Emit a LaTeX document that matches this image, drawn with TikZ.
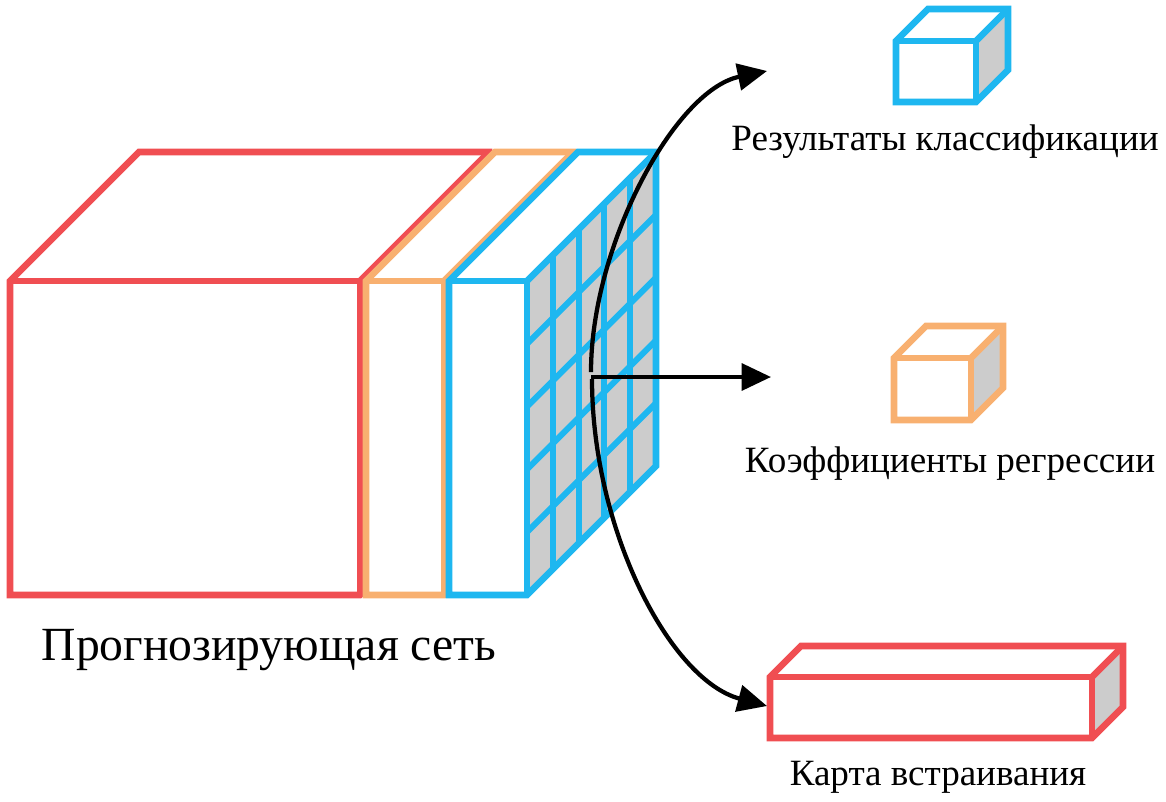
\documentclass[tikz,border=0pt]{standalone}
\usepackage{fontspec}
\setmainfont{Liberation Serif}
\usetikzlibrary{arrows.meta}
\definecolor{cred}{RGB}{240,78,82}
\definecolor{corange}{RGB}{248,176,112}
\definecolor{cblue}{RGB}{30,183,240}
\definecolor{cgray}{RGB}{204,204,204}
\tikzset{
  edge/.style={line width=5pt, line join=miter, line cap=rect},
  grid/.style={line width=4.5pt, draw=cblue},
  conn/.style={line width=3.2pt, -{Triangle[length=22pt,width=20pt]}},
  lbl/.style={font=\fontsize{27.8}{32}\selectfont, anchor=base, inner sep=0pt},
  biglbl/.style={font=\fontsize{35.7}{42}\selectfont, anchor=base, inner sep=0pt}
}
% \mycube{colour}{x1}{y1}{x2}{y2}{depth}: front rectangle (x1,y1)-(x2,y2)
\newcommand{\mycube}[6]{%
  \fill[white] (#2,#3) -- ({#2+#6},{#3-#6}) -- ({#4+#6},{#3-#6}) -- (#4,#3) -- cycle;
  \fill[cgray] (#4,#3) -- ({#4+#6},{#3-#6}) -- ({#4+#6},{#5-#6}) -- (#4,#5) -- cycle;
  \fill[white] (#2,#3) rectangle (#4,#5);
  \draw[edge,draw=#1] (#2,#5) -- (#2,#3) -- ({#2+#6},{#3-#6}) -- ({#4+#6},{#3-#6}) -- ({#4+#6},{#5-#6}) -- (#4,#5) -- cycle;
  \draw[edge,draw=#1,line cap=butt] (#2,#3) -- (#4,#3) -- (#4,#5);
  \draw[edge,draw=#1,line cap=butt] (#4,#3) -- ({#4+#6},{#3-#6});
}
\begin{document}
\begin{tikzpicture}[x=0.75pt,y=-0.75pt]
\useasboundingbox (0,0) rectangle (1166,801);
% big network block
\mycube{cred}{10}{281}{360}{595}{129}
\mycube{corange}{366}{281}{444}{595}{129}
\mycube{cblue}{449}{281}{527}{595}{129}
\foreach \i in {1,2,3,4} {
  \draw[grid] ({527+\i*129/5},{281-\i*129/5}) -- ({527+\i*129/5},{595-\i*129/5});
  \draw[grid] (527,{281+\i*314/5}) -- (656,{152+\i*314/5});
}
% outputs
\mycube{cblue}{896}{41}{976}{102}{32}
\mycube{corange}{894}{358}{971}{420}{32}
\mycube{cred}{770}{677}{1092}{738}{31}
% labels
\node[lbl] (l1) at (945,150) {Результаты классификации};
\node[lbl] (l2) at (950,472) {Коэффициенты регрессии};
\node[lbl] (l3) at (938,785) {Карта встраивания};
\node[biglbl] (l0) at (269,660) {Прогнозирующая сеть};
% connectors
\coordinate (su) at (591,372);
\coordinate (sm) at (591,377);
\coordinate (sd) at (592,379);
\coordinate (tu) at (767,71);
\coordinate (tm) at (771,377);
\coordinate (td) at (767,706);
\draw[conn] (su) .. controls (591,245) and (675,90) .. (tu);
\draw[conn] (sm) -- (tm);
\draw[conn] (sd) .. controls (592,530) and (670,680) .. (td);
\end{tikzpicture}
\end{document}
